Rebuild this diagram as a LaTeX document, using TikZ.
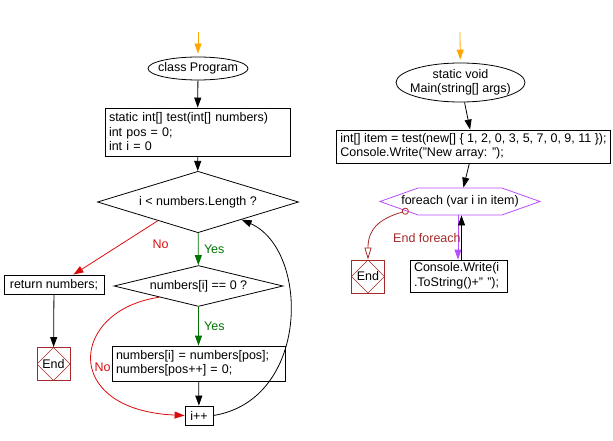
\documentclass[tikz,border=0pt]{standalone}
\usepackage{fontspec}
\setmainfont{Liberation Sans}
\usetikzlibrary{shapes.geometric,shapes.symbols,arrows.meta}

\begin{document}
\begin{tikzpicture}[x=1pt,y=-1pt,
  font=\fontsize{12.5}{14.5}\selectfont,
  flowline/.style={line width=0.8pt, -{Triangle[length=10pt,width=7pt]}},
  procbox/.style={draw, line width=0.8pt, rectangle, inner xsep=4pt, inner ysep=2pt, align=left},
  startell/.style={draw, line width=0.8pt, ellipse, inner xsep=-20pt, inner ysep=-5pt, align=center},
  testdiam/.style={draw, line width=0.8pt, diamond, inner xsep=-30pt, inner ysep=-4pt},
  endbox/.style={draw=mybrown, line width=0.8pt, rectangle, minimum size=33pt, inner sep=0pt,
    path picture={\draw[mybrown, line width=0.6pt] (path picture bounding box.north)
      -- (path picture bounding box.east) -- (path picture bounding box.south)
      -- (path picture bounding box.west) -- cycle;}},
  loophex/.style={draw=mypurple, line width=0.8pt, signal, signal to=west and east,
    signal pointer angle=39, inner xsep=-20pt, inner ysep=0pt}
]

\definecolor{myorange}{rgb}{1.00, 0.65, 0.00}
\definecolor{mygreen}{rgb}{0.00, 0.45, 0.00}
\definecolor{myred}{rgb}{0.85, 0.05, 0.05}
\definecolor{mybrown}{rgb}{0.65, 0.16, 0.16}
\definecolor{mypurple}{rgb}{0.72, 0.30, 1.00}

\useasboundingbox (0,0) rectangle (613,441);

% class Program / test()
\coordinate (progtop) at (198,32);
\node[startell, minimum width=100pt, minimum height=23pt] (prog) at (198,68.5) {class Program};
\node[procbox, text width=177pt, minimum height=48pt] (init) at (197.5,132)
  {static int[] test(int[] numbers)\\int pos = 0;\\int i = 0};
\node[testdiam, minimum width=201pt, minimum height=37pt] (cond1) at (198,202) {i < numbers.Length ?};
\node[procbox, minimum width=100pt, minimum height=19pt] (ret) at (54,284.5) {return numbers;};
\node[endbox] (endA) at (53.5,364) {End};
\node[testdiam, minimum width=169pt, minimum height=39pt] (cond2) at (198.5,286) {numbers[i] == 0 ?};
\node[procbox, text width=165pt, minimum height=35pt] (swap) at (198.5,363.5)
  {numbers[i] = numbers[pos];\\numbers[pos++] = 0;};
\node[procbox, minimum width=28pt, minimum height=19pt] (inc) at (199,415.5) {i++};

\draw[flowline, myorange, shorten >=3pt] (progtop) -- (prog);
\draw[flowline] (prog) -- (init);
\draw[flowline] (init) -- (cond1);
\draw[flowline, mygreen] (cond1) -- node[right, xshift=2pt] {Yes} (cond2);
\draw[flowline, myred] (cond1.205) -- node[pos=0.2, below right, xshift=8pt, yshift=-5pt] {No} (ret.27);
\draw[flowline] (ret) -- (endA);
\draw[flowline, mygreen] (cond2) -- node[right, xshift=2pt] {Yes} (swap);
\draw[flowline] (swap) -- (inc);
\draw[flowline, myred] (cond2.196) .. controls (70,310) and (60,410) ..
  node[pos=0.55, anchor=west, inner sep=1pt] {No} (inc.west);
\draw[flowline] (inc.east) .. controls (310,400) and (310,250) .. (cond1.338);

% static void Main()
\coordinate (maintop) at (460,32);
\node[startell, minimum width=129pt, minimum height=39pt] (main) at (460.5,82.5)
  {static void\\Main(string[] args)};
\node[procbox, minimum width=273pt, minimum height=33pt] (item) at (473.5,146.5)
  {int[] item = test(new[] \{ 1, 2, 0, 3, 5, 7, 0, 9, 11 \});\\Console.Write("New array: ");};
\node[loophex, minimum width=160pt, minimum height=27pt] (loop) at (460,201.5) {foreach (var i in item)};
\node[procbox, text width=89pt, minimum height=32pt] (body) at (458.5,276)
  {Console.Write(i\\.ToString()+"~");};
\node[endbox] (endB) at (368,276.5) {End};

\draw[flowline, myorange, shorten >=3pt] (maintop) -- (main);
\draw[flowline] (main) -- (item);
\draw[flowline] (item) -- (loop);
\draw[flowline, mypurple] ([xshift=-2pt]loop.south) -- ([xshift=-0.5pt]body.north);
\draw[flowline] ([xshift=3pt]body.north) -- ([xshift=1.5pt]loop.south);
\draw[mybrown, line width=0.8pt, {Circle[open,length=7pt]}-{Triangle[open,length=12pt,width=7pt]}, shorten <=-3pt]
  (loop.190) .. controls (378,219) and (368,230) ..
  node[pos=0.4, anchor=west, xshift=9pt, yshift=-15pt] {End foreach} (endB.north);

\end{tikzpicture}
\end{document}
